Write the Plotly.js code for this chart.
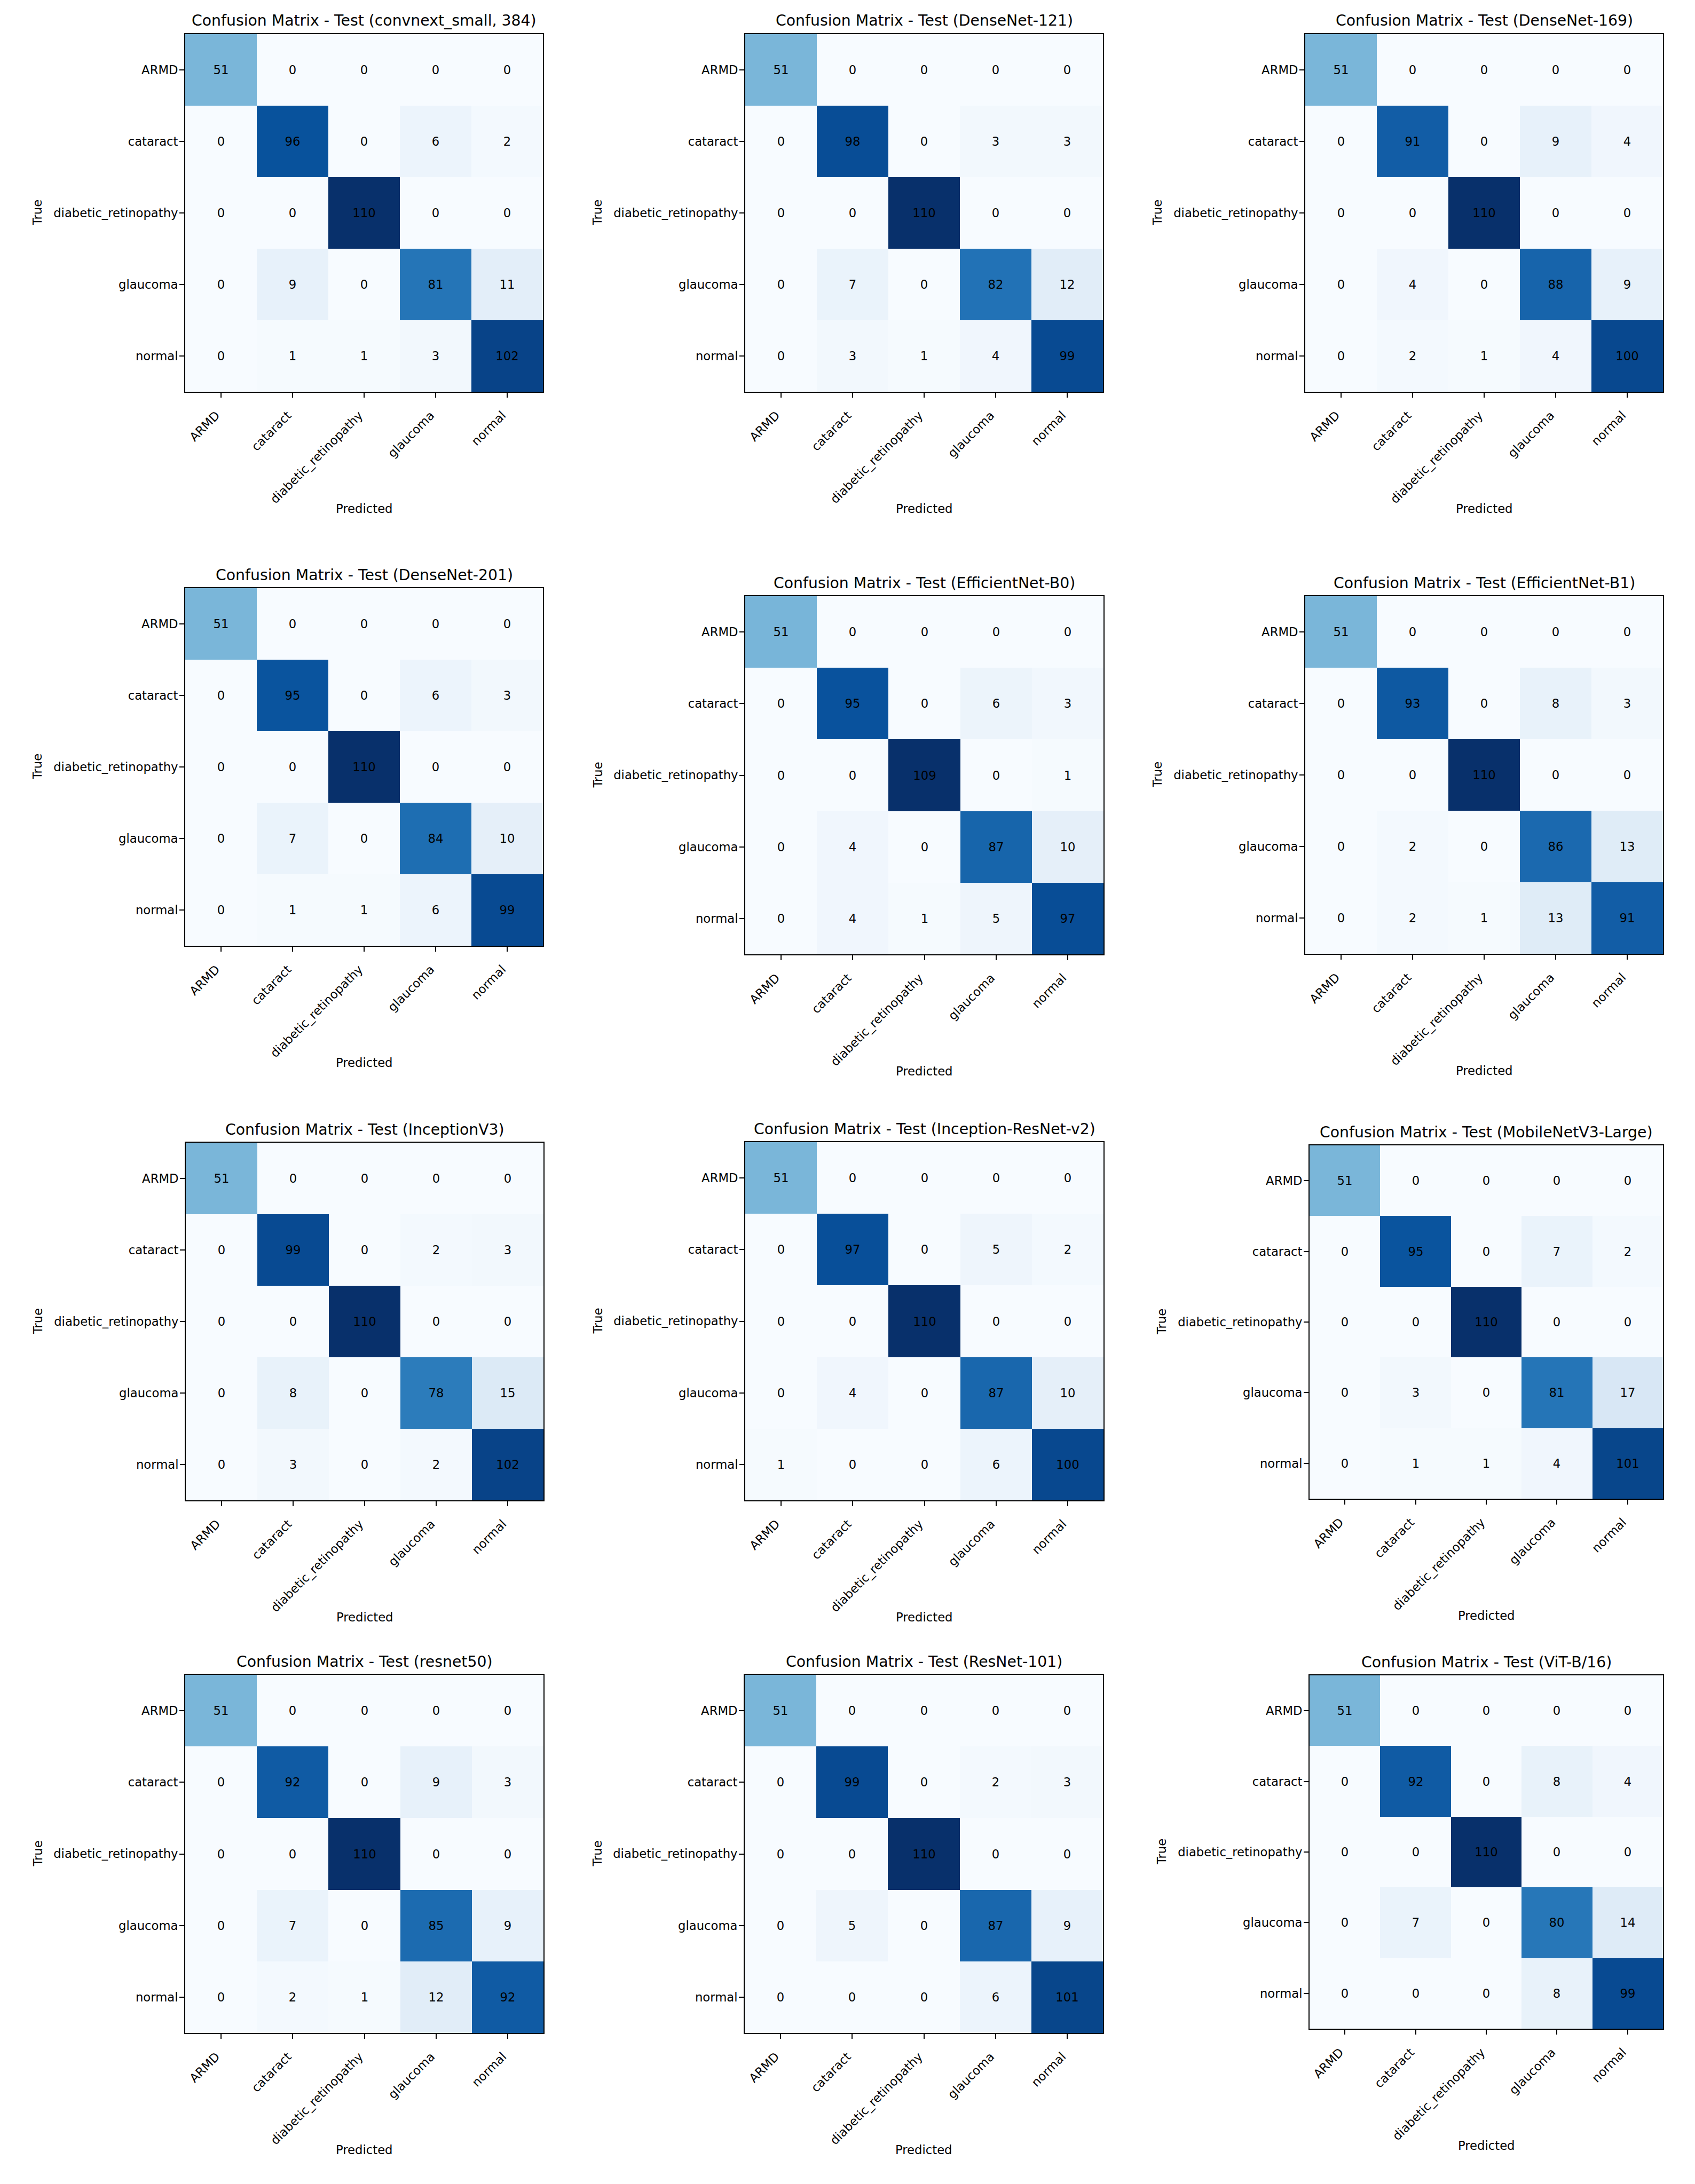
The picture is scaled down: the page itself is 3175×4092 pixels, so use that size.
<!DOCTYPE html>
<html>
<head>
<meta charset="utf-8">
<script src="https://cdn.plot.ly/plotly-3.0.1.min.js"></script>
<style>html,body{margin:0;padding:0;background:#ffffff;}</style>
</head>
<body>
<div id="chart" style="width:3175px;height:4092px;"></div>
<script>
// ---------- data ----------
const classes = ["ARMD", "cataract", "diabetic_retinopathy", "glaucoma", "normal"];
const modelNames = ["convnext_small, 384", "DenseNet-121", "DenseNet-169", "DenseNet-201",
  "EfficientNet-B0", "EfficientNet-B1", "InceptionV3", "Inception-ResNet-v2",
  "MobileNetV3-Large", "resnet50", "ResNet-101", "ViT-B/16"];

const cm_convnext_small_384 = [[51,0,0,0,0],[0,96,0,6,2],[0,0,110,0,0],[0,9,0,81,11],[0,1,1,3,102]];
const cm_densenet121 = [[51,0,0,0,0],[0,98,0,3,3],[0,0,110,0,0],[0,7,0,82,12],[0,3,1,4,99]];
const cm_densenet169 = [[51,0,0,0,0],[0,91,0,9,4],[0,0,110,0,0],[0,4,0,88,9],[0,2,1,4,100]];
const cm_densenet201 = [[51,0,0,0,0],[0,95,0,6,3],[0,0,110,0,0],[0,7,0,84,10],[0,1,1,6,99]];
const cm_efficientnet_b0 = [[51,0,0,0,0],[0,95,0,6,3],[0,0,109,0,1],[0,4,0,87,10],[0,4,1,5,97]];
const cm_efficientnet_b1 = [[51,0,0,0,0],[0,93,0,8,3],[0,0,110,0,0],[0,2,0,86,13],[0,2,1,13,91]];
const cm_inceptionv3 = [[51,0,0,0,0],[0,99,0,2,3],[0,0,110,0,0],[0,8,0,78,15],[0,3,0,2,102]];
const cm_inception_resnet_v2 = [[51,0,0,0,0],[0,97,0,5,2],[0,0,110,0,0],[0,4,0,87,10],[1,0,0,6,100]];
const cm_mobilenetv3_large = [[51,0,0,0,0],[0,95,0,7,2],[0,0,110,0,0],[0,3,0,81,17],[0,1,1,4,101]];
const cm_resnet50 = [[51,0,0,0,0],[0,92,0,9,3],[0,0,110,0,0],[0,7,0,85,9],[0,2,1,12,92]];
const cm_resnet101 = [[51,0,0,0,0],[0,99,0,2,3],[0,0,110,0,0],[0,5,0,87,9],[0,0,0,6,101]];
const cm_vit_b16 = [[51,0,0,0,0],[0,92,0,8,4],[0,0,110,0,0],[0,7,0,80,14],[0,0,0,8,99]];

const matrices = [cm_convnext_small_384, cm_densenet121, cm_densenet169, cm_densenet201,
  cm_efficientnet_b0, cm_efficientnet_b1, cm_inceptionv3, cm_inception_resnet_v2,
  cm_mobilenetv3_large, cm_resnet50, cm_resnet101, cm_vit_b16];

// ---------- layout geometry (pixels: left, top, size) ----------
const W = 3175, H = 4092;
const boxes = [
  [347, 64, 670], [1396, 64, 670], [2445, 64, 670],
  [347, 1102, 670], [1396, 1117, 671], [2445, 1117, 670],
  [348, 2141, 670], [1396, 2140, 671], [2453, 2146, 662],
  [347, 3138, 671], [1395, 3138, 671], [2453, 3139, 662]
];

const FONT = "DejaVu Sans, Liberation Sans, sans-serif";
const FS = 22.7;        // tick / cell / axis-label font size
const FS_TITLE = 28.3;  // title font size
const blues = [[0,'#f7fbff'],[0.125,'#deebf7'],[0.25,'#c6dbef'],[0.375,'#9ecae1'],
  [0.5,'#6baed6'],[0.625,'#4292c6'],[0.75,'#2171b5'],[0.875,'#08519c'],[1,'#08306b']];

const traces = [];
const layout = {
  width: W, height: H,
  margin: {l: 0, r: 0, t: 0, b: 0},
  paper_bgcolor: '#ffffff', plot_bgcolor: '#ffffff',
  showlegend: false,
  font: {family: FONT, color: '#000000', size: FS},
  annotations: []
};

matrices.forEach((m, i) => {
  const n = i + 1;
  const xa = n === 1 ? 'x' : 'x' + n;
  const ya = n === 1 ? 'y' : 'y' + n;
  const [l, t, s] = boxes[i];
  traces.push({
    type: 'heatmap',
    x: classes, y: classes, z: m,
    xaxis: xa, yaxis: ya,
    colorscale: blues, showscale: false,
    texttemplate: '%{z}',
    textfont: {family: FONT, size: FS, color: '#000000'},
    hoverinfo: 'skip',
    xgap: 0, ygap: 0
  });
  const common = {
    type: 'category',
    ticks: 'outside', ticklen: 9, tickwidth: 2, tickcolor: '#000000',
    showline: true, mirror: true, linecolor: '#000000', linewidth: 2,
    showgrid: false, zeroline: false, fixedrange: true,
    tickfont: {family: FONT, size: FS, color: '#000000'}
  };
  layout[n === 1 ? 'xaxis' : 'xaxis' + n] = Object.assign({}, common, {
    domain: [l / W, (l + s) / W], anchor: ya,
    tickangle: -45, ticklabelstandoff: 11, ticklabelshift: -9
  });
  layout[n === 1 ? 'yaxis' : 'yaxis' + n] = Object.assign({}, common, {
    domain: [1 - (t + s) / H, 1 - t / H], anchor: xa,
    autorange: 'reversed', ticklabelstandoff: -2
  });
  // title
  layout.annotations.push({
    xref: 'paper', yref: 'paper', x: (l + s / 2) / W, y: 1 - (t - 25) / H,
    xanchor: 'center', yanchor: 'middle', showarrow: false,
    text: 'Confusion Matrix - Test (' + modelNames[i] + ')',
    font: {family: FONT, size: FS_TITLE, color: '#000000'}
  });
  // y label
  layout.annotations.push({
    xref: 'paper', yref: 'paper', x: (l - 277) / W, y: 1 - (t + s / 2) / H,
    xanchor: 'center', yanchor: 'middle', showarrow: false, textangle: -90,
    text: 'True', font: {family: FONT, size: FS, color: '#000000'}
  });
  // x label
  layout.annotations.push({
    xref: 'paper', yref: 'paper', x: (l + s / 2) / W, y: 1 - (t + s + 219) / H,
    xanchor: 'center', yanchor: 'middle', showarrow: false,
    text: 'Predicted', font: {family: FONT, size: FS, color: '#000000'}
  });
});

Plotly.newPlot('chart', traces, layout, {staticPlot: true, displayModeBar: false});
</script>
</body>
</html>
